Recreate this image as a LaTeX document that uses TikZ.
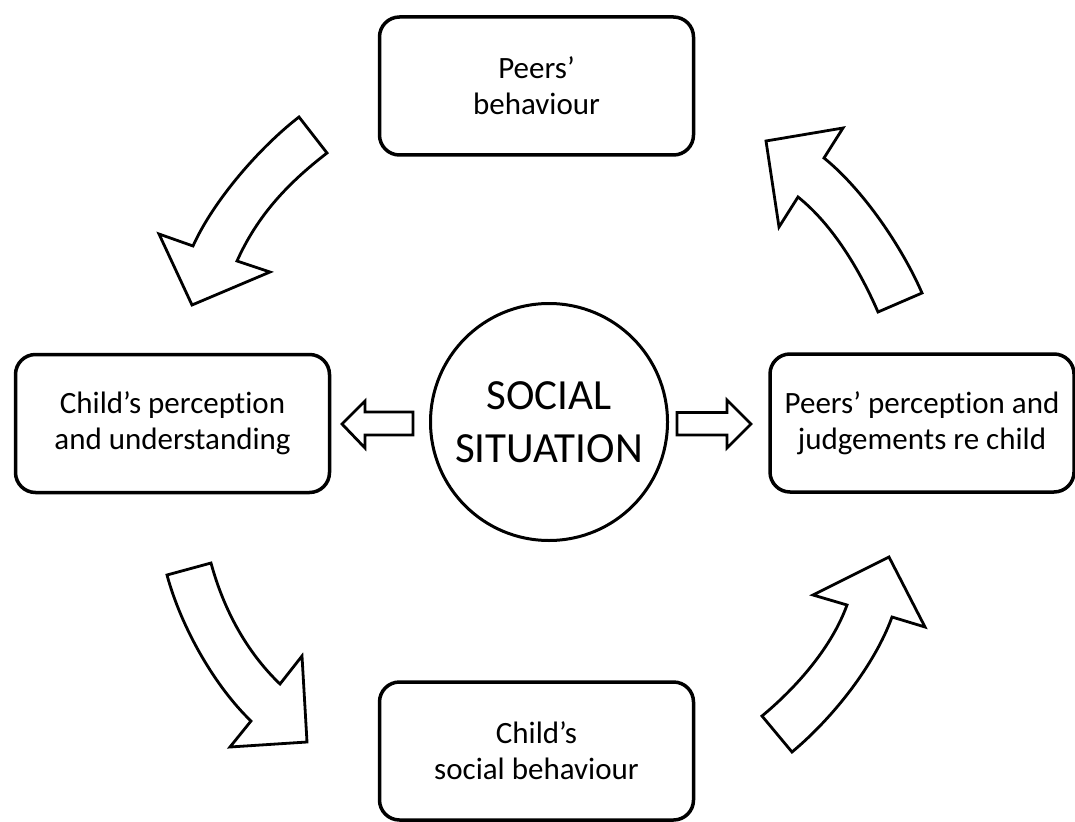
\documentclass[tikz,border=0pt]{standalone}
\usepackage{fontspec}
\setmainfont{Carlito}[Ligatures=CommonOff]
\usepackage{tikz}

\newcommand{\boxtextfont}{\fontsize{31}{36}\selectfont}
\newcommand{\hubtextfont}{\fontsize{43}{53}\selectfont}

\tikzset{
  box/.style={draw, line width=3.5pt, rounded corners=20pt, minimum width=314pt, minimum height=138pt, align=center, font=\boxtextfont},
  hub/.style={draw, circle, line width=3pt, minimum size=237pt, inner sep=0pt, align=center, font=\hubtextfont},
  bigarrow/.style={draw, line width=2.8pt, fill=white},
}

\begin{document}
\begin{tikzpicture}[x=1pt,y=-1pt]
  \useasboundingbox (0,0) rectangle (1075,821);

  \node[box] (peersbeh) at (536.5,86) {Peers’\\behaviour};
  \node[box] (childperc) at (172.5,423.5) {Child’s perception\\and understanding};
  \node[box, minimum width=304pt] (peersperc) at (922,423) {Peers’ perception and\\judgements re child};
  \node[box] (childbeh) at (536.5,751) {Child’s\\social behaviour};
  \node[hub] (social) at (549,422) {SOCIAL\\SITUATION};

  % curved arrows round the cycle
  \draw[bigarrow] (299,117) -- (327,153) .. controls (287.5,183.5) and (257.5,215.5) .. (237,261) -- (270,272) -- (192,305) -- (159,234) -- (193,246) .. controls (213.5,200.5) and (259.5,147.5) .. (299,117) -- cycle;
  \draw[bigarrow] (766,141) -- (843,128) -- (824,158) .. controls (863,189.5) and (902,247) .. (922,293) -- (878,312) .. controls (860,270.6) and (833,225) .. (798,197) -- (779,227) -- cycle;
  \draw[bigarrow] (167,575) -- (211,563) .. controls (224,611) and (247.6,653) .. (280,684) -- (302,656) -- (307,742) -- (230,747) -- (251,721) .. controls (215,686.5) and (181.3,627.8) .. (167,575) -- cycle;
  \draw[bigarrow] (762,716) -- (792,752) .. controls (834,717) and (875,664) .. (892,617) -- (925,627) -- (889,557) -- (813,595) -- (847,605) .. controls (831.7,647.3) and (796.7,687.2) .. (762,716) -- cycle;

  % small arrows out of the centre
  \draw[bigarrow] (413,412) -- (365,412) -- (365,401) -- (342,424) -- (365,448) -- (365,435) -- (413,435) -- cycle;
  \draw[bigarrow] (677,412.5) -- (727,412.5) -- (727,400) -- (751,424) -- (727,448) -- (727,435) -- (677,435) -- cycle;
\end{tikzpicture}
\end{document}
